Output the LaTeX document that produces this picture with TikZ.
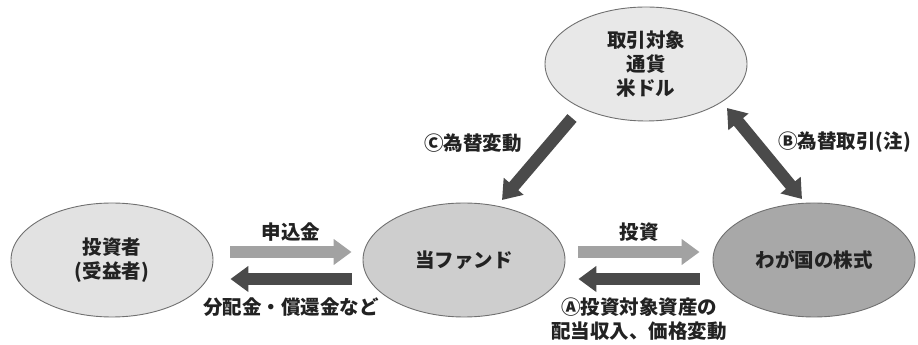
\documentclass[tikz,border=0pt]{standalone}
\usepackage{fontspec}
\setmainfont{Noto Sans CJK JP}
\usepackage{tikz}
\usetikzlibrary{positioning}
\usetikzlibrary{arrows.meta}
\usetikzlibrary{shapes}

\definecolor{pale}{HTML}{E2E2E2}
\definecolor{paletop}{HTML}{E8E8E8}
\definecolor{midg}{HTML}{CECECE}
\definecolor{deepg}{HTML}{A8A8A8}
\definecolor{rim}{HTML}{707070}
\definecolor{liteg}{HTML}{A2A2A2}
\definecolor{darkg}{HTML}{4A4A4A}
\definecolor{ink}{HTML}{222222}

\begin{document}
\begin{tikzpicture}[x=1pt,y=1pt,node distance=352pt,on grid,
   every node/.style={font=\fontsize{19.5}{24}\selectfont\bfseries,text=ink,align=center},
   blob/.style={ellipse,draw=rim,line width=0.9pt,minimum width=202pt,minimum height=114pt,inner sep=0pt},
   lite/.style={line width=12pt,color=liteg,-{Triangle[length=18pt,width=25pt]}},
   dark/.style={line width=12pt,color=darkg,-{Triangle[length=18pt,width=25pt]}},
   both/.style={line width=12pt,color=darkg,{Triangle[length=18pt,width=25pt]}-{Triangle[length=18pt,width=25pt]}}]
   \useasboundingbox (0,0) rectangle (918,345);
   \node[blob,fill=pale] (inv) at (112,85) {投資者\\(受益者)};
   \node[blob,fill=midg] (fund) [right=of inv] {当ファンド};
   \node[blob,fill=deepg] (stock) [right=350pt of fund] {わが国の株式};
   \node[blob,fill=paletop] (usd) [above right=196pt and 182pt of fund] {取引対象\\通貨\\米ドル};

   \draw[lite] ([shift={(17,8)}]inv.east) -- node[yshift=20pt] {申込金} ([shift={(-11,8)}]fund.west);
   \draw[dark] ([shift={(-11,-19)}]fund.west) -- node[yshift=-28pt] {分配金・償還金など} ([shift={(17,-19)}]inv.east);
   \draw[lite] ([shift={(13,8)}]fund.east) -- node[yshift=20pt] {投資} ([shift={(-13,8)}]stock.west);
   \draw[dark] ([shift={(-13,-19)}]stock.west) -- node[yshift=-40pt] {Ⓐ投資対象資産の\\配当収入、価格変動} ([shift={(13,-19)}]fund.east);
   \draw[dark] ([shift={(-74,-54)}]usd.center) -- node[xshift=-64pt,yshift=16pt] {Ⓒ為替変動} ([shift={(38,60)}]fund.center);
   \draw[both] ([shift={(81,-44)}]usd.center) -- node[xshift=80pt,yshift=11pt] {Ⓑ為替取引(注)} ([shift={(-12,61)}]stock.center);
\end{tikzpicture}
\end{document}
